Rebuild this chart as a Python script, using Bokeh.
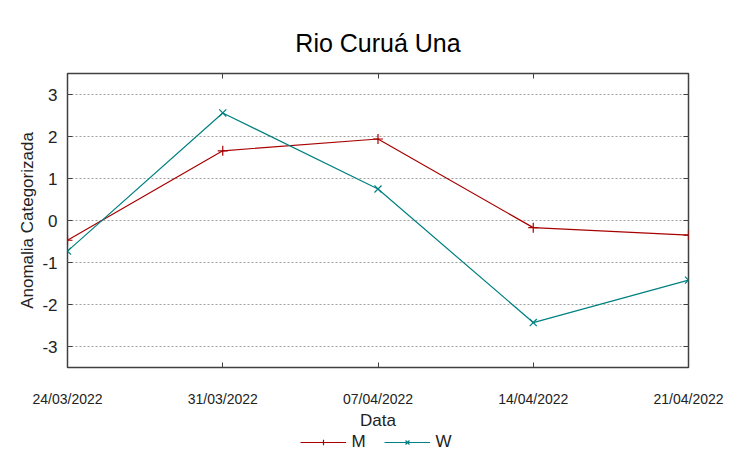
import pandas as pd
from bokeh.plotting import figure
from bokeh.layouts import column
from bokeh.models import (FixedTicker, DatetimeTickFormatter, LinearAxis, Range1d,
                          Legend, LegendItem)
from bokeh.embed import file_html
from bokeh.resources import INLINE

dates = ["2022-03-24", "2022-03-31", "2022-04-07", "2022-04-14", "2022-04-21"]
m_values = [-0.47, 1.66, 1.94, -0.17, -0.35]
w_values = [-0.73, 2.56, 0.75, -2.43, -1.42]
y_ticks = [-3, -2, -1, 0, 1, 2, 3]
series_names = ["M", "W"]

x = pd.to_datetime(dates)
x_ms = [float(d.value // 10**6) for d in x]

FONT = "Liberation Sans"
M_COLOR = "#a80000"
W_COLOR = "#008080"
TXT = "#222222"
FRAME = "#404040"

p = figure(width=752, height=432, output_backend="svg", toolbar_location=None,
           x_axis_type="datetime",
           x_range=Range1d(x_ms[0], x_ms[-1]), y_range=Range1d(-3.5, 3.5),
           min_border_left=67, min_border_right=64, min_border_top=73,
           min_border_bottom=62)

p.title.text = "Rio Curuá Una"
p.title.align = "center"
p.title.vertical_align = "top"
p.title.standoff = 30
p.title.text_font = FONT
p.title.text_font_size = "25px"
p.title.text_font_style = "normal"
p.title.text_color = "black"

p.outline_line_color = FRAME
p.outline_line_width = 1.5
p.background_fill_color = "white"
p.border_fill_color = "white"

p.xgrid.visible = False
p.ygrid.ticker = FixedTicker(ticks=y_ticks)
p.ygrid.grid_line_color = "#a0a0a0"
p.ygrid.grid_line_dash = "2 2"
p.ygrid.grid_line_width = 1

fmt = "%d/%m/%Y"
xa = p.xaxis[0]
xa.ticker = FixedTicker(ticks=x_ms)
xa.formatter = DatetimeTickFormatter(days=fmt, months=fmt, years=fmt, hours=fmt,
                                     minutes=fmt, seconds=fmt, milliseconds=fmt,
                                     microseconds=fmt, minsec=fmt, hourmin=fmt)
xa.major_tick_in = 5
xa.major_tick_out = 0
xa.minor_tick_in = 0
xa.minor_tick_out = 0
xa.axis_line_color = None
xa.major_tick_line_color = FRAME
xa.major_label_standoff = 23
xa.major_label_text_font = FONT
xa.major_label_text_font_size = "14px"
xa.major_label_text_color = TXT
xa.axis_label = "Data"
xa.axis_label_text_font = FONT
xa.axis_label_text_font_size = "17px"
xa.axis_label_text_font_style = "normal"
xa.axis_label_text_color = TXT
xa.axis_label_standoff = 1

ya = p.yaxis[0]
ya.ticker = FixedTicker(ticks=y_ticks)
ya.major_label_overrides = {t: str(t) for t in y_ticks}
ya.major_tick_in = 5
ya.major_tick_out = 0
ya.minor_tick_in = 0
ya.minor_tick_out = 0
ya.axis_line_color = None
ya.major_tick_line_color = FRAME
ya.major_label_standoff = 10
ya.major_label_text_font = FONT
ya.major_label_text_font_size = "17px"
ya.major_label_text_color = TXT
ya.axis_label = "Anomalia Categorizada"
ya.axis_label_text_font = FONT
ya.axis_label_text_font_size = "17px"
ya.axis_label_text_font_style = "normal"
ya.axis_label_text_color = TXT
ya.axis_label_standoff = 2

# mirrored ticks on the right and top borders (no labels)
ra = LinearAxis(ticker=FixedTicker(ticks=y_ticks), major_tick_in=5, major_tick_out=0,
                minor_tick_in=0, minor_tick_out=0, axis_line_color=None,
                major_tick_line_color=FRAME,
                major_label_overrides={t: "" for t in y_ticks},
                major_label_standoff=0)
p.add_layout(ra, "right")
ta = LinearAxis(ticker=FixedTicker(ticks=x_ms), major_tick_in=5, major_tick_out=0,
                minor_tick_in=0, minor_tick_out=0, axis_line_color=None,
                major_tick_line_color=FRAME,
                major_label_overrides={t: "" for t in x_ms},
                major_label_standoff=0)
p.add_layout(ta, "above")

p.line(x_ms, m_values, line_color=M_COLOR, line_width=1.2)
p.scatter(x_ms, m_values, marker="cross", size=10, line_color=M_COLOR, line_width=1.2)
p.line(x_ms, w_values, line_color=W_COLOR, line_width=1.2)
p.scatter(x_ms, w_values, marker="x", size=10, line_color=W_COLOR, line_width=1.2)

# legend strip below the chart (proxy renderers lie outside its visible range)
lg = figure(width=752, height=27, output_backend="svg", toolbar_location=None,
            title=None, min_border=0, x_axis_location=None, y_axis_location=None,
            outline_line_color=None, x_range=Range1d(0, 1), y_range=Range1d(0, 1))
lg.xgrid.visible = False
lg.ygrid.visible = False
lg_m_line = lg.line(x_ms, m_values, line_color=M_COLOR, line_width=1.2)
lg_m_pt = lg.scatter(x_ms, m_values, marker="cross", size=10, line_color=M_COLOR, line_width=1.2)
lg_w_line = lg.line(x_ms, w_values, line_color=W_COLOR, line_width=1.2)
lg_w_pt = lg.scatter(x_ms, w_values, marker="x", size=10, line_color=W_COLOR, line_width=1.2)

legend = Legend(items=[LegendItem(label=series_names[0], renderers=[lg_m_line, lg_m_pt]),
                       LegendItem(label=series_names[1], renderers=[lg_w_line, lg_w_pt])],
                orientation="horizontal", location="top_center",
                label_text_font=FONT, label_text_font_size="17px",
                label_text_color=TXT,
                glyph_width=46, glyph_height=14, label_height=14,
                label_standoff=6, spacing=12, padding=0, margin=0,
                border_line_color=None, background_fill_alpha=0)
lg.add_layout(legend, "center")

layout = column(p, lg, spacing=0)
open("out.html", "w").write(file_html(layout, INLINE))
